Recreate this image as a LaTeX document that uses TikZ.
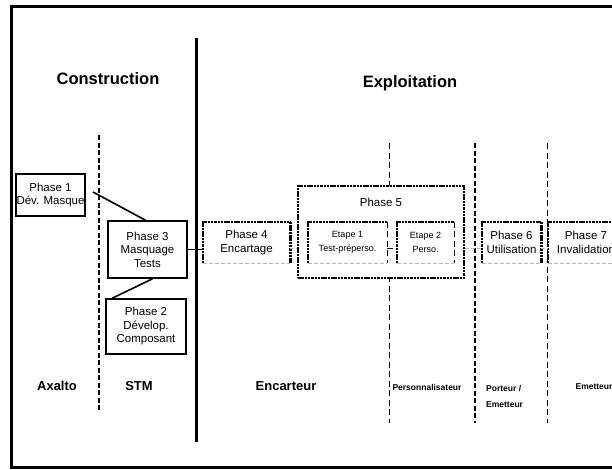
\documentclass[tikz,border=0pt]{standalone}
\usepackage{fontspec}
\setmainfont{Liberation Sans}
\begin{document}
\begin{tikzpicture}[x=1pt, y=-1pt,
  every node/.style={align=center, inner sep=0pt, font=\fontsize{11.5}{13.5}\selectfont},
  titre/.style={font=\fontsize{16.5}{18}\selectfont\bfseries},
  lieu/.style={font=\fontsize{13}{15}\selectfont\bfseries},
  petit/.style={font=\fontsize{8.5}{16}\selectfont\bfseries},
  etape/.style={font=\fontsize{9}{14}\selectfont},
  solidbox/.style={draw, line width=1.6pt},
  openbox/.style={minimum height=41pt},
  bigdash/.style={line width=2.6pt, dash pattern=on 5pt off 2.5pt},
  thindash/.style={line width=0.9pt, dash pattern=on 6pt off 3.5pt},
  dotline/.style={line width=2.6pt, dash pattern=on 2.5pt off 0.8pt},
  greyline/.style={gray!55, line width=0.7pt, dash pattern=on 4pt off 2pt}]

\useasboundingbox (0,0) rectangle (612,469);

\draw[line width=3pt] (625,6) -- (11,6) -- (11,467) -- (625,467);
\draw[line width=3pt] (196,38) -- (196,442);

\draw[bigdash] (99,135) -- (99,411);
\draw[thindash] (389,143) -- (389,423);
\draw[bigdash] (475,143) -- (475,423);
\draw[thindash] (547,143) -- (547,423);

\node[titre] (constr) at (108,79) {Construction};
\node[titre] (exploit) at (410,83) {Exploitation};

% construction
\node[solidbox, minimum width=69pt, minimum height=42pt] (p1) at (50.5,195) {Phase 1\\Dév. Masque};
\node[solidbox, minimum width=79pt, minimum height=57pt] (p3) at (147.5,249.5) {Phase 3\\Masquage\\Tests};
\node[solidbox, minimum width=80pt, minimum height=55pt] (p2) at (146,326.5) {Phase 2\\Dévelop.\\Composant};

\coordinate (c1) at (93,192);
\draw[line width=1.6pt] (c1) -- ([xshift=-2pt]p3.north);
\draw[line width=1.6pt] ([xshift=5pt]p3.south) -- ([xshift=7pt]p2.north west);

% exploitation
\node[draw, dotline, fill=white, minimum width=166pt, minimum height=92pt] (p5) at (381,232) {};
\node (p5t) at (381,202) {Phase 5};

\node[openbox, minimum width=87pt] (p4) at (246.5,242.5) {Phase 4\\Encartage};
\node[openbox, etape, minimum width=79pt] (e1) at (347.5,242.5) {Etape 1\\Test-préperso.};
\node[openbox, etape, minimum width=57pt] (e2) at (425.5,242.5) {Etape 2\\Perso.};
\node[openbox, minimum width=59pt] (p6) at (511.5,242.5) {Phase 6\\Utilisation};
\node[openbox, minimum width=76pt] (p7) at (586,242.5) {Phase 7\\Invalidation};

\foreach \n/\r in {p4/dotline, e1/thindash, e2/thindash, p6/dotline, p7/dotline} {
  \draw[dotline] (\n.south west) |- (\n.north east);
  \draw[\r] (\n.north east) -- (\n.south east);
  \draw[greyline] (\n.south west) -- (\n.south east);
}

\draw[line width=1.6pt] (p3.east) -- (p3.east -| p4.west);
\draw[greyline] ([yshift=-5.5pt]p4.east) -- ([yshift=-5.5pt]p4.east -| p5.west);
\draw[thindash, line width=0.7pt] ([yshift=-5.5pt]e1.east) -- ([yshift=-5.5pt]e2.west);
\draw[greyline] ([yshift=-5.5pt]p6.west -| p5.east) -- ([yshift=-5.5pt]p6.west);
\draw[greyline] ([yshift=-5.5pt]p6.east) -- ([yshift=-5.5pt]p7.west);

% acteurs
\node[lieu] (axalto) at (57,386) {Axalto};
\node[lieu] (stm) at (139,386) {STM};
\node[lieu] (encart) at (286,386) {Encarteur};
\node[petit] (perso) at (427,387) {Personnalisateur};
\node[petit, align=left, anchor=west] (porteur) at (486,396) {Porteur /\\Emetteur};
\node[petit] (emet) at (594,387) {Emetteur};

\end{tikzpicture}
\end{document}
